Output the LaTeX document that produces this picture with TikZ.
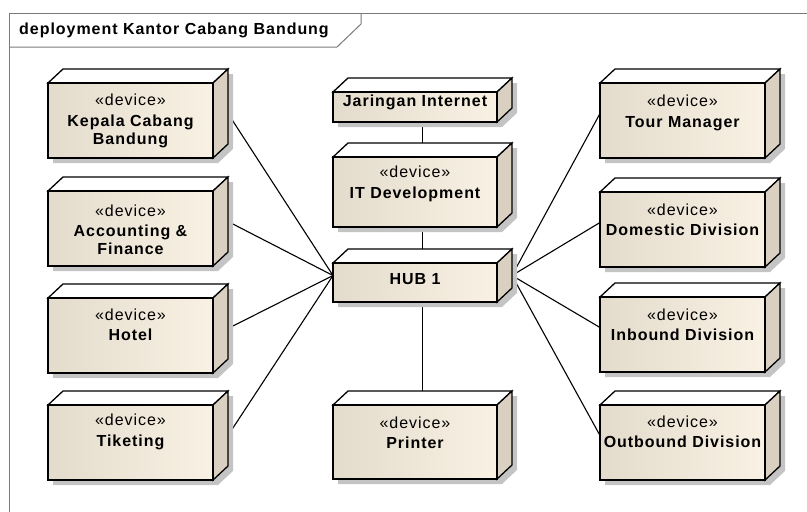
\documentclass[tikz,border=0pt]{standalone}
\usepackage{fontspec}
\setmainfont{Liberation Sans}[LetterSpace=6]
\usetikzlibrary{calc}
\pgfdeclarelayer{bg}
\pgfsetlayers{bg,main}
\definecolor{frontl}{HTML}{E3DBCC}
\definecolor{frontr}{HTML}{F9F2E4}
\definecolor{sidec}{HTML}{D9D0C1}
\definecolor{shadowc}{HTML}{C4C4C4}
\definecolor{framec}{HTML}{7A7A7A}
\tikzset{
  bboxnode/.style={draw=none, inner sep=0pt, outer sep=0pt, rectangle},
  faceline/.style={draw=black, line width=1.3pt, line join=miter},
  devtext/.style={align=center, inner sep=0pt, font=\fontsize{16}{18}\selectfont\bfseries},
  conn/.style={draw=black, line width=1.1pt},
  frameline/.style={draw=framec, line width=1pt},
}
\newcommand\stereo{{\mdseries «device»}\\[2.5pt]}
% #1 name, #2 x, #3 front top, #4 width, #5 height, #6 text centre y, #7 text
\newcommand\devbox[7]{%
  \node[bboxnode, minimum width={#4+15}, minimum height={#5+14}, anchor=north west] (#1) at (#2,#3-14) {};
  \fill[shadowc] (#2+5,#3+5) -- (#2+20,#3-9) -- (#2+#4+20,#3-9) -- (#2+#4+20,#3+#5-9) -- (#2+#4+5,#3+#5+5) -- (#2+5,#3+#5+5) -- cycle;
  \draw[faceline, fill=white] (#2,#3) -- (#2+15,#3-14) -- (#2+#4+15,#3-14) -- (#2+#4,#3) -- cycle;
  \draw[faceline, fill=sidec] (#2+#4,#3) -- (#2+#4+15,#3-14) -- (#2+#4+15,#3+#5-14) -- (#2+#4,#3+#5) -- cycle;
  \draw[faceline, left color=frontl, right color=frontr] (#2,#3) rectangle (#2+#4,#3+#5);
  \node[devtext] (#1-t) at (#2+#4/2,#6) {#7};
}
\begin{document}
\begin{tikzpicture}[x=1pt,y=-1pt]
\useasboundingbox (0,0) rectangle (807,512);
% frame
\draw[frameline] (9,512) -- (9,13) -- (807,13);
\draw[frameline] (9,47) -- (337,47) -- (361,24) -- (361,13);
\node[anchor=west, inner sep=0pt, font=\fontsize{16}{18}\selectfont\bfseries] (title) at (19,30) {deployment Kantor Cabang Bandung};
% left column
\devbox{kepala}{48}{83}{165}{75}{121}{\stereo Kepala Cabang\\Bandung}
\devbox{acc}{48}{191}{165}{75}{230}{\stereo Accounting \&\\Finance}
\devbox{hotel}{48}{298}{165}{75}{325}{\stereo Hotel}
\devbox{tiket}{48}{405}{165}{75}{432}{\stereo Tiketing}
% middle column
\devbox{jaringan}{333}{92}{164}{30}{102}{Jaringan Internet}
\devbox{it}{333}{157}{164}{70}{184}{\stereo IT Development}
\devbox{hub}{333}{263}{164}{39}{279}{HUB 1}
\devbox{printer}{333}{405}{164}{74}{433}{\stereo Printer}
% right column
\devbox{tour}{600}{83}{165}{75}{113}{\stereo Tour Manager}
\devbox{domestic}{600}{192}{165}{75}{220}{\stereo Domestic Division}
\devbox{inbound}{600}{297}{165}{75}{325}{\stereo Inbound Division}
\devbox{outbound}{600}{405}{165}{75}{432}{\stereo Outbound Division}
% connectors
\begin{pgfonlayer}{bg}
\draw[conn] (kepala.east) -- (hub.west);
\draw[conn] (acc.east) -- (hub.west);
\draw[conn] (hotel.east) -- (hub.west);
\draw[conn] (tiket.east) -- (hub.west);
\draw[conn] (hub.east) -- (tour.west);
\draw[conn] (hub.east) -- (domestic.west);
\draw[conn] (hub.east) -- (inbound.west);
\draw[conn] (hub.east) -- (outbound.west);
\draw[conn] (jaringan.south) -- (it.north);
\draw[conn] (it.south) -- (hub.north);
\draw[conn] (hub.south) -- (printer.north);
\end{pgfonlayer}
\end{tikzpicture}
\end{document}
